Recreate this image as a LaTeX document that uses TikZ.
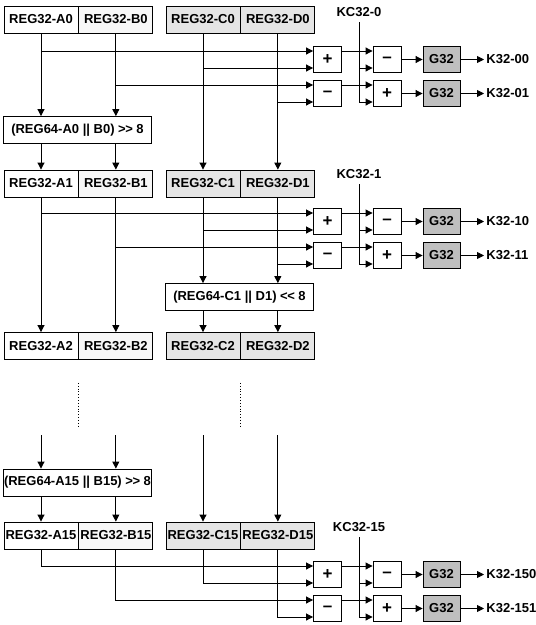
\documentclass[tikz,border=0pt]{standalone}
\usepackage{fontspec}
\setmainfont{Liberation Sans}
\usetikzlibrary{arrows.meta,positioning}
\newcommand{\shr}{>\kern-0.5pt>}
\newcommand{\shl}{<\kern-0.5pt<}

\begin{document}
\begin{tikzpicture}[x=1pt,y=-1pt,line width=0.85pt,
  >={Triangle[length=7pt,width=7pt]},
  txt/.style={font=\fontsize{13}{15}\selectfont\bfseries,inner sep=0pt},
  reg/.style={txt,draw,minimum width=74pt,minimum height=27pt},
  rega/.style={reg,fill=white}, regb/.style={reg,fill=gray!6},
  regc/.style={reg,fill=gray!20},
  shiftbox/.style={txt,draw,fill=white,minimum width=148pt,minimum height=27pt},
  op/.style={draw,fill=white,inner sep=0pt,minimum width=28pt,minimum height=26pt,
    font=\fontsize{17}{17}\selectfont\bfseries},
  gbox/.style={txt,draw,fill=gray!50,minimum width=37pt,minimum height=26pt},
  every edge/.style={draw,->}]
  \useasboundingbox (0,0) rectangle (536,625);
  % register rows
  \foreach \r/\y in {0/19.5,1/183.5,2/346,15/535.5}{
    \node[rega] (A\r) at (41,\y) {REG32-A\r};
    \node[regb,right=0pt of A\r] (B\r) {REG32-B\r};
    \node[regc] (C\r) at (203,\y) {REG32-C\r};
    \node[regc,right=0pt of C\r] (D\r) {REG32-D\r};
  }
  % shift boxes
  \node[shiftbox] (SA0) at (77.5,130) {(REG64-A0 || B0) \shr\ 8};
  \node[shiftbox] (SC1) at (239.5,297) {(REG64-C1 || D1) \shl\ 8};
  \node[shiftbox] (SA15) at (77.5,482.5) {(REG64-A15 || B15) \shr\ 8};
  \draw (A0) edge (A0 |- SA0.north) (B0) edge (B0 |- SA0.north)
        (SA0.south -| A1) edge (A1) (SA0.south -| B1) edge (B1)
        (C0) edge (C1) (D0) edge (D1)
        (A1) edge (A2) (B1) edge (B2)
        (C1) edge (C1 |- SC1.north) (D1) edge (D1 |- SC1.north)
        (SC1.south -| C2) edge (C2) (SC1.south -| D2) edge (D2);
  \draw[dotted] (A2.south east) ++(0,23) -- ++(0,43);
  \draw[dotted] (C2.south east) ++(0,23) -- ++(0,43);
  \coordinate (cont) at (0,435);
  \draw (A15 |- cont) edge (A15 |- SA15.north) (B15 |- cont) edge (B15 |- SA15.north)
        (SA15.south -| A15) edge (A15) (SA15.south -| B15) edge (B15)
        (C15 |- cont) edge (C15) (D15 |- cont) edge (D15);
  % key mixing stages
  \foreach \k/\y in {0/51,1/213,15/566}{
    \coordinate (ia\k) at (0,\y);
    \coordinate (ib\k) at (0,{\y+17});
    \coordinate (ic\k) at (0,{\y+34});
    \coordinate (id\k) at (0,{\y+51});
    \node[op] (p\k) at (327.5,{\y+8.5}) {+};
    \node[op] (m\k) at (327.5,{\y+42.5}) {--};
    \node[op] (mm\k) at (387,{\y+8.5}) {--};
    \node[op] (pp\k) at (387,{\y+42.5}) {+};
    \node[gbox] (ga\k) at (441.5,{\y+8.5}) {G32};
    \node[gbox] (gb\k) at (441.5,{\y+42.5}) {G32};
    \node[txt,anchor=west] (ka\k) at (486,{\y+8.5}) {K32-\k0};
    \node[txt,anchor=west] (kb\k) at (486,{\y+42.5}) {K32-\k1};
    \node[txt] (kc\k) at (359,{\y-39}) {KC32-\k};
    \draw[->] (A\k.south) |- (p\k.west |- ia\k);
    \draw[->] (C\k.south) |- (p\k.west |- ib\k);
    \draw[->] (B\k.south) |- (m\k.west |- ic\k);
    \draw[->] (D\k.south) |- (m\k.west |- id\k);
    \draw[->] (p\k.east |- ia\k) -- (mm\k.west |- ia\k);
    \draw[->] (m\k.east |- ic\k) -- (pp\k.west |- ic\k);
    \draw[->,shorten <=5pt] (kc\k.south) |- (pp\k.west |- id\k);
    \draw[->] (kc\k.south |- ib\k) -- (mm\k.west |- ib\k);
    \draw (mm\k) edge (ga\k) (pp\k) edge (gb\k)
          (ga\k) edge[shorten >=2pt] (ka\k) (gb\k) edge[shorten >=2pt] (kb\k);
  }
\end{tikzpicture}
\end{document}
